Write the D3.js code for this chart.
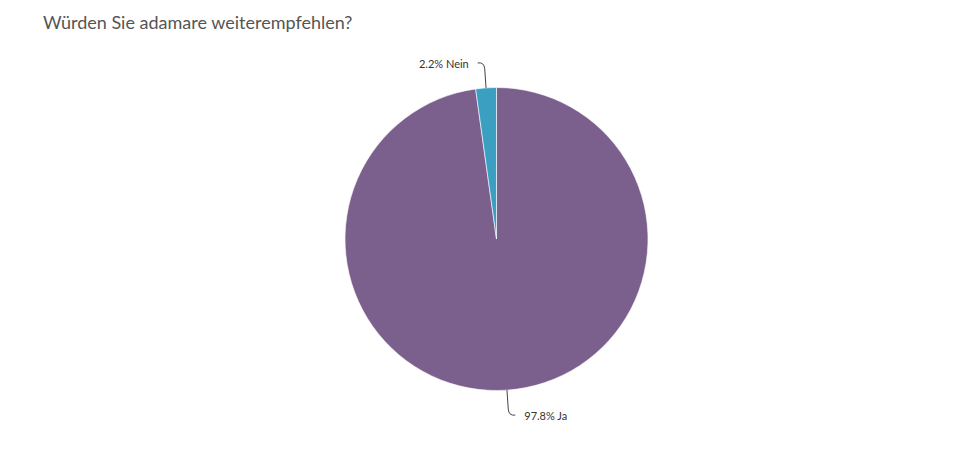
<!DOCTYPE html>
<html><head><meta charset="utf-8">
<script src="https://cdn.jsdelivr.net/npm/d3@7"></script>
<style>body{margin:0;background:#fff;}svg{display:block;}</style>
</head><body>
<svg id="c" width="963" height="457"></svg>
<script>
const categories = ["Ja", "Nein"];
const values = [97.8, 2.2];
const colors = ["#7b5f8c", "#3a9fc1"];

const svg = d3.select("#c");
const W = 963, H = 457;
svg.append("rect").attr("width", W).attr("height", H).attr("fill", "#fff");
svg.append("text").attr("x", 43).attr("y", 29)
  .attr("font-family", "Lato, sans-serif").attr("font-size", 18).attr("fill", "#555")
  .text("Würden Sie adamare weiterempfehlen?");

const cx = 496.5, cy = 239, r = 151.5;
const data = categories.map((c, i) => ({cat: c, v: values[i], color: colors[i]}));
const pie = d3.pie().sort(null).value(d => d.v);
const arcs = pie(data);
const arc = d3.arc().innerRadius(0).outerRadius(r);
const g = svg.append("g").attr("transform", `translate(${cx},${cy})`);
g.selectAll("path.slice").data(arcs).join("path").attr("class", "slice")
  .attr("d", arc).attr("fill", d => d.data.color)
  .attr("stroke", "#fff").attr("stroke-width", 0.6).attr("stroke-linejoin", "round");

arcs.forEach(a => {
  const m = (a.startAngle + a.endAngle) / 2;
  const sx = Math.sin(m), sy = -Math.cos(m);
  const p0 = [r * sx, r * sy];
  const p1 = [(r + 19) * sx, (r + 19) * sy];
  const side = sx >= 0 ? 1 : -1;
  const vdir = sy >= 0 ? 1 : -1;
  const p2 = [p1[0] + side * 7, p1[1] + vdir * 6];
  const cpt = [(r + 26) * sx, (r + 26) * sy];
  g.append("path")
    .attr("d", `M${p0[0]},${p0[1]}L${p1[0]},${p1[1]}Q${cpt[0]},${cpt[1]} ${p2[0]},${p2[1]}`)
    .attr("fill", "none").attr("stroke", "#444").attr("stroke-width", 1);
  g.append("text")
    .attr("x", p2[0] + side * 9).attr("y", p2[1] + 2)
    .attr("text-anchor", side > 0 ? "start" : "end")
    .attr("dominant-baseline", "middle")
    .attr("font-family", "Lato, sans-serif").attr("font-size", 11).attr("fill", "#333")
    .text(`${a.data.v}% ${a.data.cat}`);
});
</script>
</body></html>
